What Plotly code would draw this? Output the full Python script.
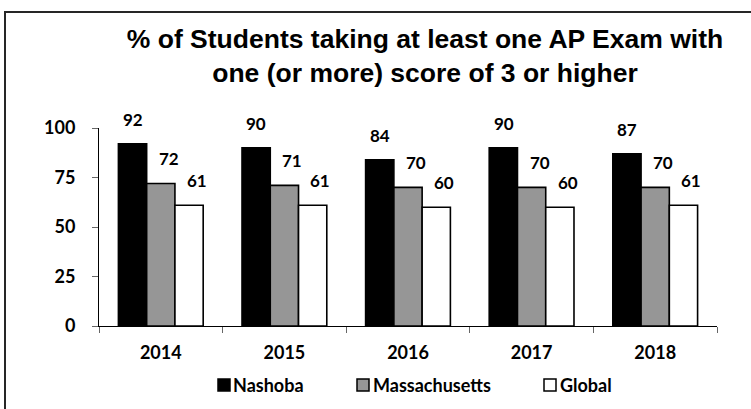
import plotly.graph_objects as go

years = ["2014", "2015", "2016", "2017", "2018"]
series_names = ["Nashoba", "Massachusetts", "Global"]
nashoba = [92, 90, 84, 90, 87]
massachusetts = [72, 71, 70, 70, 70]
global_vals = [61, 61, 60, 60, 61]
y_ticks = [0, 25, 50, 75, 100]
title_text = "% of Students taking at least one AP Exam with<br>one (or more) score of 3 or higher"

series_values = [nashoba, massachusetts, global_vals]
colors = ["#000000", "#969696", "#ffffff"]

W, H = 751, 409
ML, MR, MT, MB = 99, 34, 128, 83
PW = W - ML - MR
PH = H - MT - MB


def xp(px):
    return (px - ML) / PW


def yp(py):
    return (H - MB - py) / PH


LABEL_FONT = dict(family="Lato", size=17, color="#000000", weight="bold")
AXIS_FONT = dict(family="Lato", size=18, color="#000000", weight="bold")

fig = go.Figure()
for name, vals, col in zip(series_names, series_values, colors):
    fig.add_trace(go.Bar(
        x=years, y=vals, name=name,
        marker=dict(color=col, line=dict(color="#000000", width=1.6)),
        showlegend=False,
    ))

# data labels (placed at each bar's category index, shifted to its bar in the group)
label_xshift = [-28, 8, 36]
annotations = []
for i, vals in enumerate(series_values):
    for j, v in enumerate(vals):
        annotations.append(dict(
            x=j, y=v, xref="x", yref="y", text=str(v), showarrow=False,
            xshift=label_xshift[i], yanchor="bottom", yshift=12, font=LABEL_FONT,
        ))

# manual legend
legend_marker_x = [218, 357, 544]
legend_text_x = [231, 371, 558]
legend_y = 385
shapes = []
for name, col, mx, tx in zip(series_names, colors, legend_marker_x, legend_text_x):
    shapes.append(dict(
        type="rect", xref="paper", yref="paper",
        x0=xp(mx), x1=xp(mx + 12), y0=yp(legend_y + 6), y1=yp(legend_y - 6),
        fillcolor=col, line=dict(color="#000000", width=1.5),
    ))
    annotations.append(dict(
        x=xp(tx), y=yp(legend_y), xref="paper", yref="paper", text=name,
        showarrow=False, xanchor="left", yanchor="middle", font=AXIS_FONT,
    ))

# chart frame: top border drawn in segments, left border full height
for x_a, x_b in [(4, 250), (250, 500), (500, 751)]:
    shapes.append(dict(type="line", xref="paper", yref="paper", layer="above",
                       x0=xp(x_a), x1=xp(x_b), y0=yp(12), y1=yp(12),
                       line=dict(color="#262626", width=2)))
shapes.append(dict(type="line", xref="paper", yref="paper", layer="above",
                   x0=xp(5), x1=xp(5), y0=yp(11), y1=yp(409),
                   line=dict(color="#262626", width=2)))

fig.update_layout(
    width=W, height=H,
    margin=dict(l=ML, r=MR, t=MT, b=MB, pad=0),
    paper_bgcolor="#ffffff", plot_bgcolor="#ffffff",
    barmode="group", bargap=0.314, bargroupgap=0,
    title=dict(text=title_text, x=425 / W, xanchor="center",
               y=1 - 48 / H, yanchor="top",
               font=dict(family="Liberation Sans", size=26.5, color="#000000", weight="bold")),
    annotations=annotations,
    shapes=shapes,
    showlegend=False,
)
fig.update_xaxes(
    type="category", range=[-0.5, len(years) - 0.5], showline=True,
    linecolor="#000000", linewidth=1,
    ticks="outside", tickson="boundaries", ticklen=6, tickcolor="#666666",
    tickfont=AXIS_FONT, showgrid=False, ticklabelstandoff=10,
)
fig.update_yaxes(
    range=[0, 100], tickvals=y_ticks, showline=True, linecolor="#000000", linewidth=1,
    ticks="outside", ticklen=6, tickcolor="#666666", tickfont=AXIS_FONT,
    showgrid=False, zeroline=False, ticklabelstandoff=13,
)

fig.write_html(
    "out.html",
    config={"displayModeBar": False},
    post_script="document.body.style.margin='0';document.body.style.padding='0';",
)
